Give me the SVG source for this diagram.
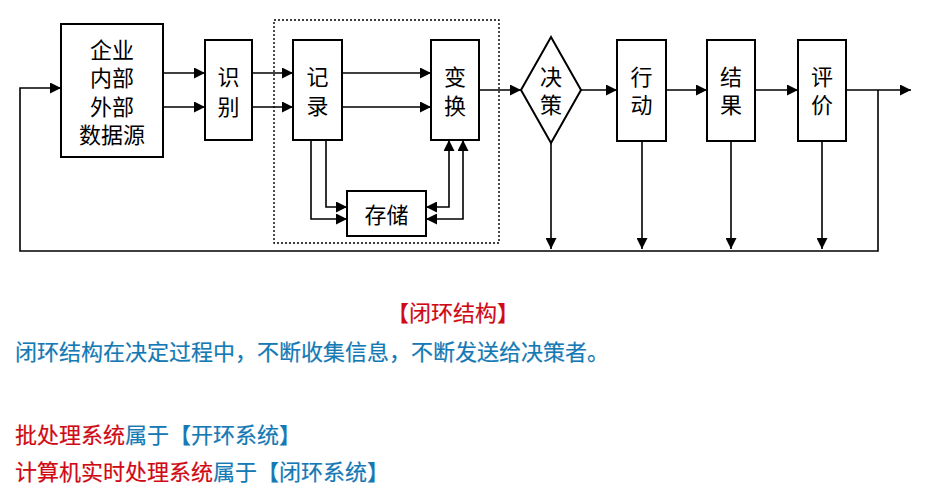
<svg xmlns="http://www.w3.org/2000/svg" width="933" height="499" viewBox="0 0 933 499">
<defs>
<marker id="ah" viewBox="0 0 10 10" refX="10" refY="5" markerWidth="11" markerHeight="11" markerUnits="userSpaceOnUse" orient="auto-start-reverse">
<path d="M0,0 L10,5 L0,10 z" fill="#000"/>
</marker>
<style>
.box{fill:#fff;stroke:#000;stroke-width:2}
.t{font-family:"Noto Sans CJK SC","Noto Sans",sans-serif;font-size:22px;fill:#000;text-anchor:middle;dominant-baseline:central}
.c{fill:none;stroke:#000;stroke-width:1.6}
.a{marker-end:url(#ah)}
.ab{marker-start:url(#ah);marker-end:url(#ah)}
.n{font-family:"Noto Sans CJK SC","Noto Sans",sans-serif;font-size:22px;font-weight:normal}
.red{fill:#cf0a14;stroke:#cf0a14;stroke-width:0.2}
.blue{fill:#1479b4;stroke:#1479b4;stroke-width:0.2}
</style>
</defs>
<rect width="933" height="499" fill="#fff"/>
<rect x="274" y="20" width="225" height="223" fill="none" stroke="#000" stroke-width="1.4" stroke-dasharray="2,2"/>
<g id="connectors">
<path class="c a" d="M163,73 H205"/>
<path class="c a" d="M163,107 H205"/>
<path class="c a" d="M252,73 H293"/>
<path class="c a" d="M252,107 H293"/>
<path class="c a" d="M342,73 H431"/>
<path class="c a" d="M342,107 H431"/>
<path class="c a" d="M479,90 H521"/>
<path class="c a" d="M581,90 H617"/>
<path class="c a" d="M666,90 H707"/>
<path class="c a" d="M755,90 H798"/>
<path class="c a" d="M846,90 H911"/>
<path class="c a" d="M878,90 V251 H20 V88 H61"/>
<path class="c a" d="M551,143 V249"/>
<path class="c a" d="M642,141 V249"/>
<path class="c a" d="M731,141 V249"/>
<path class="c a" d="M822,141 V249"/>
<path class="c a" d="M311,140 V219 H347"/>
<path class="c a" d="M326,140 V207 H347"/>
<path class="c ab" d="M426,207 H449 V140"/>
<path class="c ab" d="M426,219 H463 V140"/>
</g>
<g id="source"><rect class="box" x="61" y="24" width="102" height="133"/>
<text class="t" x="112" y="48">企业</text><text class="t" x="112" y="76">内部</text><text class="t" x="112" y="105">外部</text><text class="t" x="112" y="133">数据源</text></g>
<g id="identify"><rect class="box" x="205" y="40" width="47" height="100"/>
<text class="t" x="228.5" y="75">识</text><text class="t" x="228.5" y="105">别</text></g>
<g id="record"><rect class="box" x="293" y="40" width="49" height="100"/>
<text class="t" x="317.5" y="75">记</text><text class="t" x="317.5" y="104">录</text></g>
<g id="transform"><rect class="box" x="431" y="40" width="48" height="100"/>
<text class="t" x="455" y="75">变</text><text class="t" x="455" y="104">换</text></g>
<g id="store"><rect class="box" x="347" y="191" width="79" height="45"/>
<text class="t" x="386.5" y="213">存储</text></g>
<g id="decide"><path class="box" d="M551,37 L581,90 L551,143 L521,90 Z"/>
<text class="t" x="551" y="75">决</text><text class="t" x="551" y="103">策</text></g>
<g id="act"><rect class="box" x="617" y="40" width="49" height="101"/>
<text class="t" x="641.5" y="75">行</text><text class="t" x="641.5" y="103">动</text></g>
<g id="result"><rect class="box" x="707" y="40" width="48" height="101"/>
<text class="t" x="731" y="75">结</text><text class="t" x="731" y="103">果</text></g>
<g id="evaluate"><rect class="box" x="798" y="40" width="48" height="101"/>
<text class="t" x="822" y="75">评</text><text class="t" x="822" y="103">价</text></g>
<g id="notes">
<text class="n red" x="387" y="321">【闭环结构】</text>
<text class="n blue" x="15" y="360">闭环结构在决定过程中，不断收集信息，不断发送给决策者。</text>
<text class="n" x="15" y="443"><tspan class="red">批处理系统</tspan><tspan class="blue">属于【开环系统】</tspan></text>
<text class="n" x="15" y="480"><tspan class="red">计算机实时处理系统</tspan><tspan class="blue">属于【闭环系统】</tspan></text>
</g>
</svg>
